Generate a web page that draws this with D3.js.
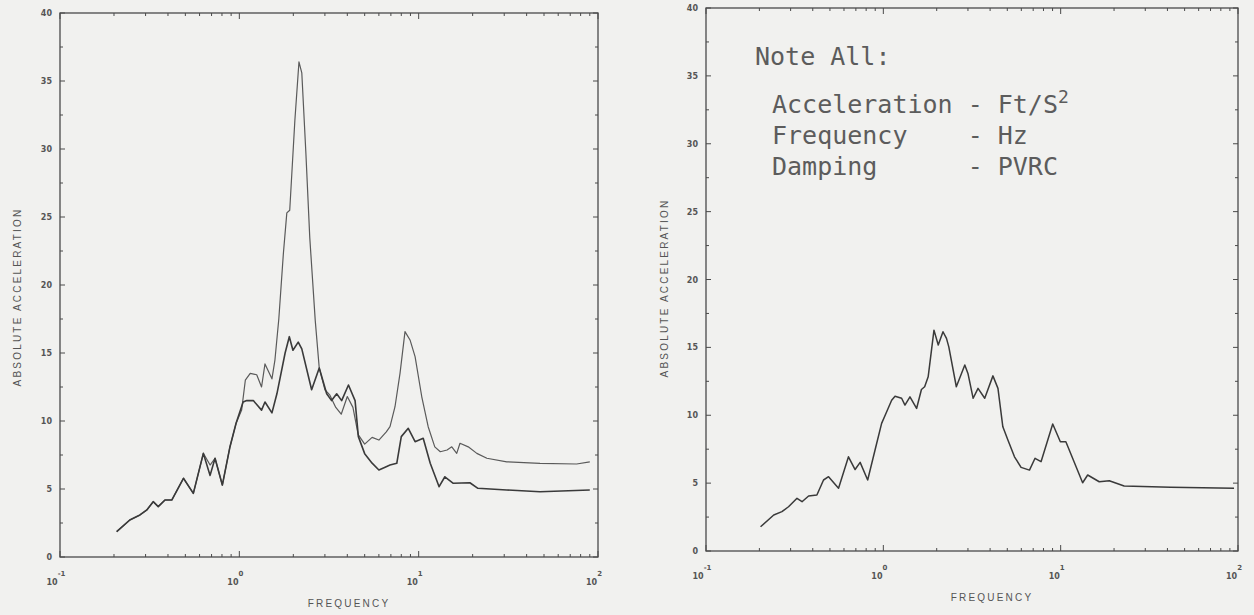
<!DOCTYPE html>
<html>
<head>
<meta charset="utf-8">
<script src="https://cdn.jsdelivr.net/npm/d3@7"></script>
<style>
  body { margin: 0; background: #f1f1ef; }
  svg { display: block; }
</style>
</head>
<body>
<div id="chart"></div>
<script>
// Values.
const ACC_TICKS = [0, 5, 10, 15, 20, 25, 30, 35, 40];
const DECADES = [0.1, 1, 10, 100];
const DECADE_EXP = ['-1', '0', '1', '2'];

// left panel, curve with the tall 2 Hz peak
const LEFT_A_FREQ = [0.207, 0.245, 0.279, 0.305, 0.331, 0.353, 0.385, 0.42, 0.488, 0.554,
  0.63, 0.687, 0.732, 0.804, 0.887, 0.959, 1.03, 1.08, 1.15, 1.25,
  1.33, 1.39, 1.52, 1.58, 1.66, 1.76, 1.84, 1.91, 2.04, 2.15,
  2.23, 2.35, 2.47, 2.65, 2.79, 3.0, 3.2, 3.45, 3.7, 4.0,
  4.3, 4.6, 5.0, 5.5, 6.0, 6.6, 6.92, 7.38, 7.87, 8.39,
  8.95, 9.55, 10.4, 11.3, 12.3, 13.2, 14.4, 15.3, 16.3, 17.0,
  18.9, 21.1, 24.0, 31.0, 47.5, 76, 90];
const LEFT_A_ACC = [1.86, 2.72, 3.09, 3.46, 4.07, 3.7, 4.19, 4.19, 5.79, 4.68,
  7.62, 6.76, 7.26, 5.29, 8.11, 9.83, 10.8, 13.0, 13.5, 13.4,
  12.5, 14.2, 13.1, 14.5, 17.5, 22.3, 25.3, 25.5, 32.1, 36.4,
  35.6, 29.7, 23.5, 17.4, 13.9, 12.3, 11.9, 11.0, 10.5, 11.8,
  11.0, 9.0, 8.3, 8.8, 8.6, 9.2, 9.58, 11.05, 13.5, 16.57,
  15.96, 14.73, 11.8, 9.58, 8.1, 7.74, 7.87, 8.1, 7.62, 8.36,
  8.1, 7.62, 7.26, 7.0, 6.89, 6.84, 7.0];

// left panel, lower curve
const LEFT_B_FREQ = [0.207, 0.245, 0.279, 0.305, 0.331, 0.353, 0.385, 0.42, 0.488, 0.554,
  0.63, 0.687, 0.732, 0.804, 0.887, 0.959, 1.05, 1.1, 1.197, 1.33,
  1.39, 1.52, 1.62, 1.8, 1.9, 1.99, 2.13, 2.23, 2.53, 2.79,
  3.07, 3.27, 3.49, 3.72, 4.06, 4.42, 4.61, 5.0, 5.5, 6.0,
  6.5, 6.92, 7.55, 8.0, 8.75, 9.55, 10.6, 11.6, 13.0, 14.0,
  15.6, 19.3, 21.4, 31, 47.5, 90];
const LEFT_B_ACC = [1.86, 2.72, 3.09, 3.46, 4.07, 3.7, 4.19, 4.19, 5.79, 4.68,
  7.62, 6.0, 7.26, 5.29, 8.11, 9.83, 11.4, 11.5, 11.5, 10.8,
  11.4, 10.6, 12.0, 15.0, 16.2, 15.2, 15.8, 15.3, 12.3, 13.9,
  12.0, 11.5, 12.0, 11.5, 12.65, 11.5, 8.85, 7.6, 6.9, 6.4,
  6.6, 6.76, 6.89, 8.85, 9.46, 8.48, 8.73, 6.89, 5.17, 5.9,
  5.42, 5.46, 5.05, 4.93, 4.8, 4.93];

// right panel
const RIGHT_FREQ = [0.203, 0.241, 0.268, 0.292, 0.326, 0.348, 0.379, 0.422, 0.46, 0.491,
  0.559, 0.636, 0.693, 0.74, 0.816, 0.898, 0.978, 1.04, 1.114, 1.164,
  1.268, 1.324, 1.413, 1.54, 1.64, 1.71, 1.79, 1.93, 2.04, 2.17,
  2.27, 2.34, 2.58, 2.88, 3.0, 3.21, 3.42, 3.73, 4.15, 4.43,
  4.72, 5.04, 5.49, 5.98, 6.67, 7.17, 7.75, 9.02, 9.96, 10.7,
  13.3, 14.2, 16.5, 18.8, 22.8, 41.7, 95];
const RIGHT_ACC = [1.79, 2.65, 2.9, 3.26, 3.88, 3.63, 4.05, 4.12, 5.23, 5.47,
  4.62, 6.94, 6.0, 6.53, 5.23, 7.44, 9.4, 10.2, 11.1, 11.4,
  11.25, 10.75, 11.36, 10.5, 11.9, 12.1, 12.83, 16.27, 15.17, 16.15,
  15.66, 15.04, 12.1, 13.7, 13.08, 11.25, 11.98, 11.25, 12.9, 11.98,
  9.15, 8.17, 6.94, 6.16, 5.96, 6.83, 6.58, 9.35, 8.05, 8.05,
  5.03, 5.6, 5.1, 5.18, 4.79, 4.69, 4.62];

const NOTE_TITLE = 'Note All:';
const NOTE_ROWS = [
  ['Acceleration', 'Ft/S', '2'],
  ['Frequency', 'Hz', ''],
  ['Damping', 'PVRC', '']
];

const width = 1254;
const height = 615;
const INK = '#4a4a4a';

const svg = d3.select('#chart')
  .append('svg')
  .attr('width', width)
  .attr('height', height);

svg.append('rect')
  .attr('width', width)
  .attr('height', height)
  .attr('fill', '#f1f1ef');

function zip(fs, vs) {
  return fs.map((f, i) => ({f, v: vs[i]}));
}

/*
  One log-frequency panel: frame, inward ticks on all four sides,
  tick labels, axis titles and the curves.
*/
function panel(box, curves, titleY) {
  const x = d3.scaleLog().domain([0.1, 100]).range([box.x0, box.x1]);
  const y = d3.scaleLinear().domain([0, 40]).range([box.y1, box.y0]);
  const g = svg.append('g');

  // frame
  g.append('rect')
    .attr('x', box.x0).attr('y', box.y0)
    .attr('width', box.x1 - box.x0).attr('height', box.y1 - box.y0)
    .attr('fill', 'none').attr('stroke', INK).attr('stroke-width', 1.3);

  // y ticks, every 2.5 with majors at 5
  d3.range(0, 40.01, 2.5).forEach(v => {
    const len = v % 5 === 0 ? 5 : 3;
    g.append('line').attr('x1', box.x0).attr('x2', box.x0 + len)
      .attr('y1', y(v)).attr('y2', y(v)).attr('stroke', INK);
    g.append('line').attr('x1', box.x1).attr('x2', box.x1 - len)
      .attr('y1', y(v)).attr('y2', y(v)).attr('stroke', INK);
  });

  // x ticks, log minors
  DECADES.forEach((d, i) => {
    const steps = i < DECADES.length - 1 ? d3.range(1, 10) : [1];
    steps.forEach(k => {
      const len = k === 1 ? 6 : 3;
      const px = x(d * k);
      g.append('line').attr('x1', px).attr('x2', px)
        .attr('y1', box.y1).attr('y2', box.y1 - len).attr('stroke', INK);
      g.append('line').attr('x1', px).attr('x2', px)
        .attr('y1', box.y0).attr('y2', box.y0 + len).attr('stroke', INK);
    });
  });

  // y tick labels
  g.selectAll('.ylab')
    .data(ACC_TICKS)
    .enter()
    .append('text')
    .attr('x', box.x0 - 8)
    .attr('y', d => y(d) + 3)
    .attr('text-anchor', 'end')
    .attr('font-family', 'DejaVu Sans, sans-serif')
    .attr('font-size', 8)
    .attr('font-weight', 'bold')
    .attr('fill', '#555')
    .text(d => d);

  // x tick labels, 10 with superscript exponent
  DECADES.forEach((d, i) => {
    const t = g.append('text')
      .attr('x', x(d) - 4)
      .attr('y', box.y1 + 28)
      .attr('text-anchor', 'middle')
      .attr('font-family', 'DejaVu Sans, sans-serif')
      .attr('font-size', 8)
      .attr('font-weight', 'bold')
      .attr('fill', '#555');
    t.append('tspan').text('10');
    t.append('tspan').attr('dy', -9).attr('font-size', 7).text(DECADE_EXP[i]);
  });

  // axis titles
  g.append('text')
    .attr('transform', `translate(${titleY.x},${titleY.y}) rotate(-90)`)
    .attr('text-anchor', 'middle')
    .attr('font-family', 'Liberation Sans, Arial, sans-serif')
    .attr('font-size', 10)
    .attr('letter-spacing', 2.2)
    .attr('fill', '#555')
    .text('ABSOLUTE ACCELERATION');

  g.append('text')
    .attr('x', (box.x0 + box.x1) / 2 + 20)
    .attr('y', box.y1 + 50)
    .attr('text-anchor', 'middle')
    .attr('font-family', 'Liberation Sans, Arial, sans-serif')
    .attr('font-size', 10)
    .attr('letter-spacing', 2.2)
    .attr('fill', '#555')
    .text('FREQUENCY');

  const line = d3.line().x(d => x(d.f)).y(d => y(d.v));
  curves.forEach(c => {
    g.append('path')
      .datum(c.data)
      .attr('d', line)
      .attr('fill', 'none')
      .attr('stroke', c.color)
      .attr('stroke-width', c.w)
      .attr('stroke-linejoin', 'round');
  });
}

panel({x0: 60, x1: 598, y0: 13, y1: 557}, [
  {data: zip(LEFT_A_FREQ, LEFT_A_ACC), color: '#5a5a5a', w: 1.2},
  {data: zip(LEFT_B_FREQ, LEFT_B_ACC), color: '#3a3a3a', w: 1.6}
], {x: 21, y: 297});

panel({x0: 706, x1: 1238, y0: 8, y1: 551}, [
  {data: zip(RIGHT_FREQ, RIGHT_ACC), color: '#3a3a3a', w: 1.5}
], {x: 668, y: 288});

// typed note in the right panel
const note = svg.append('g')
  .attr('font-family', 'DejaVu Sans Mono, monospace')
  .attr('fill', '#5c5c5c');

note.append('text')
  .attr('x', 755).attr('y', 65)
  .attr('font-size', 25)
  .text(NOTE_TITLE);

NOTE_ROWS.forEach((r, i) => {
  const t = note.append('text')
    .attr('x', 772).attr('y', 113 + i * 31)
    .attr('font-size', 25)
    .attr('xml:space', 'preserve')
    .style('white-space', 'pre');
  t.append('tspan').text(r[0].padEnd(13, ' ') + '- ' + r[1]);
  if (r[2]) t.append('tspan').attr('dy', -10).attr('font-size', 18).text(r[2]);
});
</script>
</body>
</html>
